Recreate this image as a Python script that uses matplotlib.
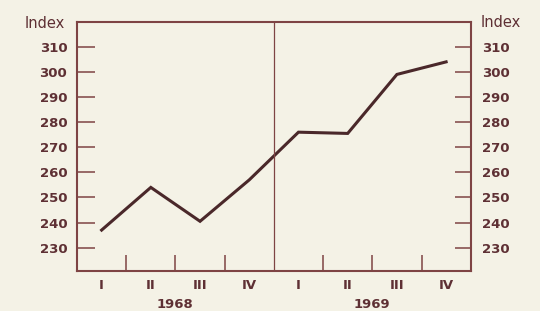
import matplotlib.pyplot as plt

# Index values per quarter, 1968 I .. 1969 IV
quarters = ["I", "II", "III", "IV", "I", "II", "III", "IV"]
years = ["1968", "1969"]
index_values = [237, 254, 240.5, 257, 276, 275.5, 299, 304]
y_ticks = [230, 240, 250, 260, 270, 280, 290, 300, 310]

bg = "#f4f2e6"
frame_col = "#7e4444"
line_col = "#4a282a"
text_col = "#5e3034"

plt.rcParams["font.family"] = "DejaVu Sans"

fig = plt.figure(figsize=(5.4, 3.11), dpi=100, facecolor=bg)
ax = fig.add_axes([0.1426, 0.1286, 0.7291, 0.8016])
ax.set_facecolor(bg)

x = [i + 0.5 for i in range(len(index_values))]
ax.plot(x, index_values, color=line_col, lw=2.2, solid_joinstyle="miter")

ax.set_xlim(0, 8)
ax.set_ylim(220.7, 320)

# year divider
ax.axvline(4, color=frame_col, lw=0.9)

for s in ax.spines.values():
    s.set_color(frame_col)
    s.set_linewidth(1.5)

# y axis (left)
ax.set_yticks(y_ticks)
ax.tick_params(axis="y", direction="in", length=13, width=1.1, color=frame_col,
               labelcolor=text_col, labelsize=9.5, pad=7)
for lab in ax.get_yticklabels():
    lab.set_fontweight("bold")

# y axis (right)
ax2 = ax.twinx()
ax2.set_ylim(ax.get_ylim())
ax2.set_yticks(y_ticks)
ax2.tick_params(axis="y", direction="in", length=11.5, width=1.1, color=frame_col,
                labelcolor=text_col, labelsize=9.5, pad=8)
for lab in ax2.get_yticklabels():
    lab.set_fontweight("bold")
for s in ax2.spines.values():
    s.set_visible(False)

# x axis: quarter boundary ticks and quarter labels
ax.set_xticks([1, 2, 3, 5, 6, 7])
ax.set_xticklabels([])
ax.tick_params(axis="x", which="major", direction="in", length=11.5, width=1.1,
               color=frame_col)
ax.set_xticks(x, minor=True)
ax.set_xticklabels(quarters, minor=True)
ax.tick_params(axis="x", which="minor", length=0, pad=6, labelsize=9.5,
               labelcolor=text_col)
for lab in ax.get_xticklabels(minor=True):
    lab.set_fontweight("bold")

for i, yr in enumerate(years):
    ax.text(2 + 4 * i, -0.133, yr, transform=ax.get_xaxis_transform(),
            ha="center", va="center", fontsize=9.5, fontweight="bold",
            color=text_col)

# "Index" labels
fig.text(0.12, 0.926, "Index", ha="right", va="center", fontsize=10.5,
         color=text_col)
fig.text(0.89, 0.929, "Index", ha="left", va="center", fontsize=10.5,
         color=text_col)

fig.savefig("out.png", dpi=100, facecolor=bg)
